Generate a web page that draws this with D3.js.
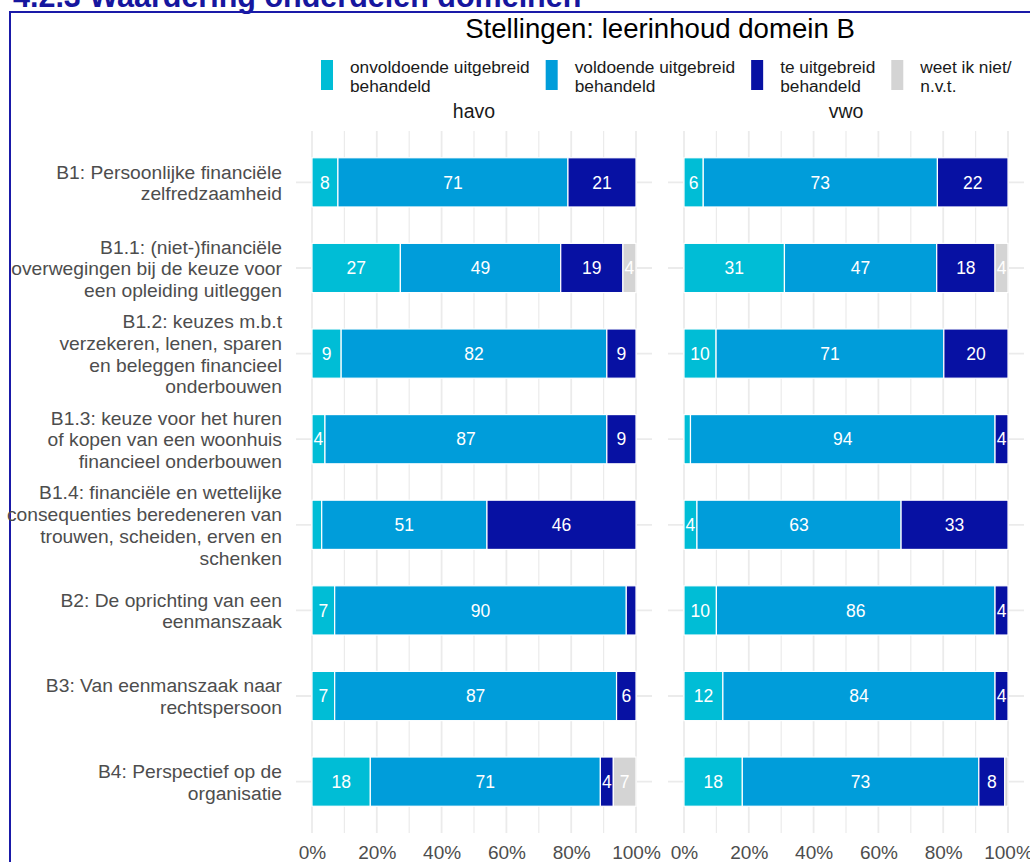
<!DOCTYPE html>
<html>
<head>
<meta charset="utf-8">
<script src="https://cdn.jsdelivr.net/npm/d3@7"></script>
<style>
  body { margin: 0; background: #fff; }
  svg { display: block; font-family: "Liberation Sans", Arial, sans-serif; }
</style>
</head>
<body>
<div id="chart"></div>
<script>
// categories on the y axis (top to bottom), "\n" = line break in the label
const categories = [
  "B1: Persoonlijke financiële\nzelfredzaamheid",
  "B1.1: (niet-)financiële\noverwegingen bij de keuze voor\neen opleiding uitleggen",
  "B1.2: keuzes m.b.t\nverzekeren, lenen, sparen\nen beleggen financieel\nonderbouwen",
  "B1.3: keuze voor het huren\nof kopen van een woonhuis\nfinancieel onderbouwen",
  "B1.4: financiële en wettelijke\nconsequenties beredeneren van\ntrouwen, scheiden, erven en\nschenken",
  "B2: De oprichting van een\neenmanszaak",
  "B3: Van eenmanszaak naar\nrechtspersoon",
  "B4: Perspectief op de\norganisatie"
];

const seriesKeys = ["onvoldoende", "voldoende", "te", "weet"];
const seriesLabels = [
  "onvoldoende uitgebreid\nbehandeld",
  "voldoende uitgebreid\nbehandeld",
  "te uitgebreid\nbehandeld",
  "weet ik niet/\nn.v.t."
];
const seriesColors = ["#00bdd6", "#009dda", "#0711a3", "#d4d4d4"];

const panels = ["havo", "vwo"];

// percentages per statement
const havoOnvoldoende = [8, 27, 9, 4, 3, 7, 7, 18];
const havoVoldoende = [71, 49, 82, 87, 51, 90, 87, 71];
const havoTe = [21, 19, 9, 9, 46, 3, 6, 4];
const havoWeet = [0, 4, 0, 0, 0, 0, 0, 7];

const vwoOnvoldoende = [6, 31, 10, 2, 4, 10, 12, 18];
const vwoVoldoende = [73, 47, 71, 94, 63, 86, 84, 73];
const vwoTe = [22, 18, 20, 4, 33, 4, 4, 8];
const vwoWeet = [0, 4, 0, 0, 0, 0, 0, 1];

const xTicks = [0, 0.2, 0.4, 0.6, 0.8, 1];

const panelSeries = {
  havo: [havoOnvoldoende, havoVoldoende, havoTe, havoWeet],
  vwo: [vwoOnvoldoende, vwoVoldoende, vwoTe, vwoWeet]
};

/**
 * one row object per statement for a panel
 * @param {string} panel
 */
function rowsFor(panel) {
  return categories.map((cat, i) => {
    const row = { cat: cat };
    seriesKeys.forEach((k, j) => {
      row[k] = panelSeries[panel][j][i];
    });
    return row;
  });
}

const width = 1030;
const height = 862;
const panelTop = 131;
const panelBottom = 833;
const expand = 16; // ggplot style expansion of the x range
const panelRanges = { havo: [312, 636], vwo: [684, 1008] };
const gridColor = "#ebebeb";
const axisTextColor = "#4d4d4d";

const svg = d3
  .select("#chart")
  .append("svg")
  .attr("width", width)
  .attr("height", height);

// heading of the report, cut off by the screenshot
svg
  .append("text")
  .attr("x", 13)
  .attr("y", 7)
  .attr("font-size", 30.5)
  .attr("font-weight", "bold")
  .attr("fill", "#16169e")
  .text("4.2.3 Waardering onderdelen domeinen");

// blue box around the figure
svg
  .append("path")
  .attr("d", `M10,${height} V12 H${width}`)
  .attr("fill", "none")
  .attr("stroke", "#1a1aa8")
  .attr("stroke-width", 2);

// title
svg
  .append("text")
  .attr("x", (panelRanges.havo[0] + panelRanges.vwo[1]) / 2)
  .attr("y", 38)
  .attr("text-anchor", "middle")
  .attr("font-size", 27.6)
  .attr("fill", "#000")
  .text("Stellingen: leerinhoud domein B");

// legend
const legend = svg.append("g").attr("class", "legend");
let legendX = 321;
seriesKeys.forEach((k, i) => {
  const g = legend.append("g").attr("transform", `translate(${legendX},60)`);
  g.append("rect")
    .attr("width", 12)
    .attr("height", 30)
    .attr("fill", seriesColors[i]);
  const t = g
    .append("text")
    .attr("y", 13)
    .attr("font-size", 17.3)
    .attr("fill", "#1a1a1a");
  seriesLabels[i].split("\n").forEach((line, j) => {
    t.append("tspan")
      .attr("x", 29)
      .attr("dy", j ? 18.5 : 0)
      .text(line);
  });
  legendX += 29 + t.node().getBBox().width + 16;
});

const y = d3
  .scalePoint()
  .domain(categories)
  .range([panelTop, panelBottom])
  .padding(0.6);

const barHeight = y.step() * 0.575;

const stack = d3.stack().keys(seriesKeys).offset(d3.stackOffsetExpand);

panels.forEach(panel => {
  const x = d3.scaleLinear().domain([0, 1]).range(panelRanges[panel]);
  const g = svg.append("g").attr("class", "panel-" + panel);
  const left = x(0) - expand;
  const right = x(1) + expand;

  // vertical grid lines, major every 20%, minor in between
  g.selectAll("line.vgrid")
    .data(x.ticks(10))
    .enter()
    .append("line")
    .attr("class", "vgrid")
    .attr("x1", d => x(d))
    .attr("x2", d => x(d))
    .attr("y1", panelTop)
    .attr("y2", panelBottom)
    .attr("stroke", gridColor)
    .attr("stroke-width", d => (Math.round(d * 10) % 2 === 0 ? 1.8 : 1.2));

  // horizontal grid lines at the statements
  g.selectAll("line.hgrid")
    .data(categories)
    .enter()
    .append("line")
    .attr("class", "hgrid")
    .attr("x1", left)
    .attr("x2", right)
    .attr("y1", d => y(d))
    .attr("y2", d => y(d))
    .attr("stroke", gridColor)
    .attr("stroke-width", 1.8);

  const series = stack(rowsFor(panel));

  const layers = g
    .selectAll("g.layer")
    .data(series)
    .enter()
    .append("g")
    .attr("class", "layer")
    .attr("fill", (d, i) => seriesColors[i]);

  layers
    .selectAll("rect")
    .data(d => d)
    .enter()
    .append("rect")
    .attr("x", d => x(d[0]))
    .attr("width", d => Math.max(0, x(d[1]) - x(d[0])))
    .attr("y", d => y(d.data.cat) - barHeight / 2)
    .attr("height", barHeight)
    .attr("stroke", "#fff")
    .attr("stroke-width", 1.2);

  // value labels, small values (< 4) are left out
  series.forEach(s => {
    g.append("g")
      .selectAll("text")
      .data(s.filter(d => d.data[s.key] >= 4))
      .enter()
      .append("text")
      .attr("x", d => (x(d[0]) + x(d[1])) / 2)
      .attr("y", d => y(d.data.cat))
      .attr("dy", "0.36em")
      .attr("text-anchor", "middle")
      .attr("font-size", 17.5)
      .attr("fill", "#fff")
      .text(d => d.data[s.key]);
  });

  // x axis
  const xAxis = g
    .append("g")
    .attr("transform", `translate(0,${panelBottom})`)
    .call(
      d3
        .axisBottom(x)
        .tickValues(xTicks)
        .tickFormat(d3.format(".0%"))
        .tickSize(0)
        .tickPadding(13)
    )
    .attr("font-family", null)
    .attr("font-size", null);
  xAxis.select(".domain").remove();
  xAxis
    .selectAll("text")
    .attr("font-size", 19)
    .attr("fill", axisTextColor);

  // strip label
  g.append("text")
    .attr("x", (x(0) + x(1)) / 2)
    .attr("y", 118)
    .attr("text-anchor", "middle")
    .attr("font-size", 19.5)
    .attr("fill", "#1a1a1a")
    .text(panel);
});

// y axis with multi-line labels
const yAxis = svg
  .append("g")
  .attr("transform", `translate(${panelRanges.havo[0] - expand},0)`)
  .call(d3.axisLeft(y).tickSize(0).tickPadding(14))
  .attr("font-family", null)
  .attr("font-size", null);
yAxis.select(".domain").remove();
const lineHeight = 21.7;
yAxis
  .selectAll(".tick text")
  .attr("font-size", 19.25)
  .attr("fill", axisTextColor)
  .attr("dy", null)
  .each(function (d) {
    const lines = d.split("\n");
    const text = d3.select(this).text(null);
    lines.forEach((line, j) => {
      text
        .append("tspan")
        .attr("x", -14)
        .attr("y", (j - (lines.length - 1) / 2) * lineHeight)
        .attr("dy", "0.35em")
        .text(line);
    });
  });
</script>
</body>
</html>
